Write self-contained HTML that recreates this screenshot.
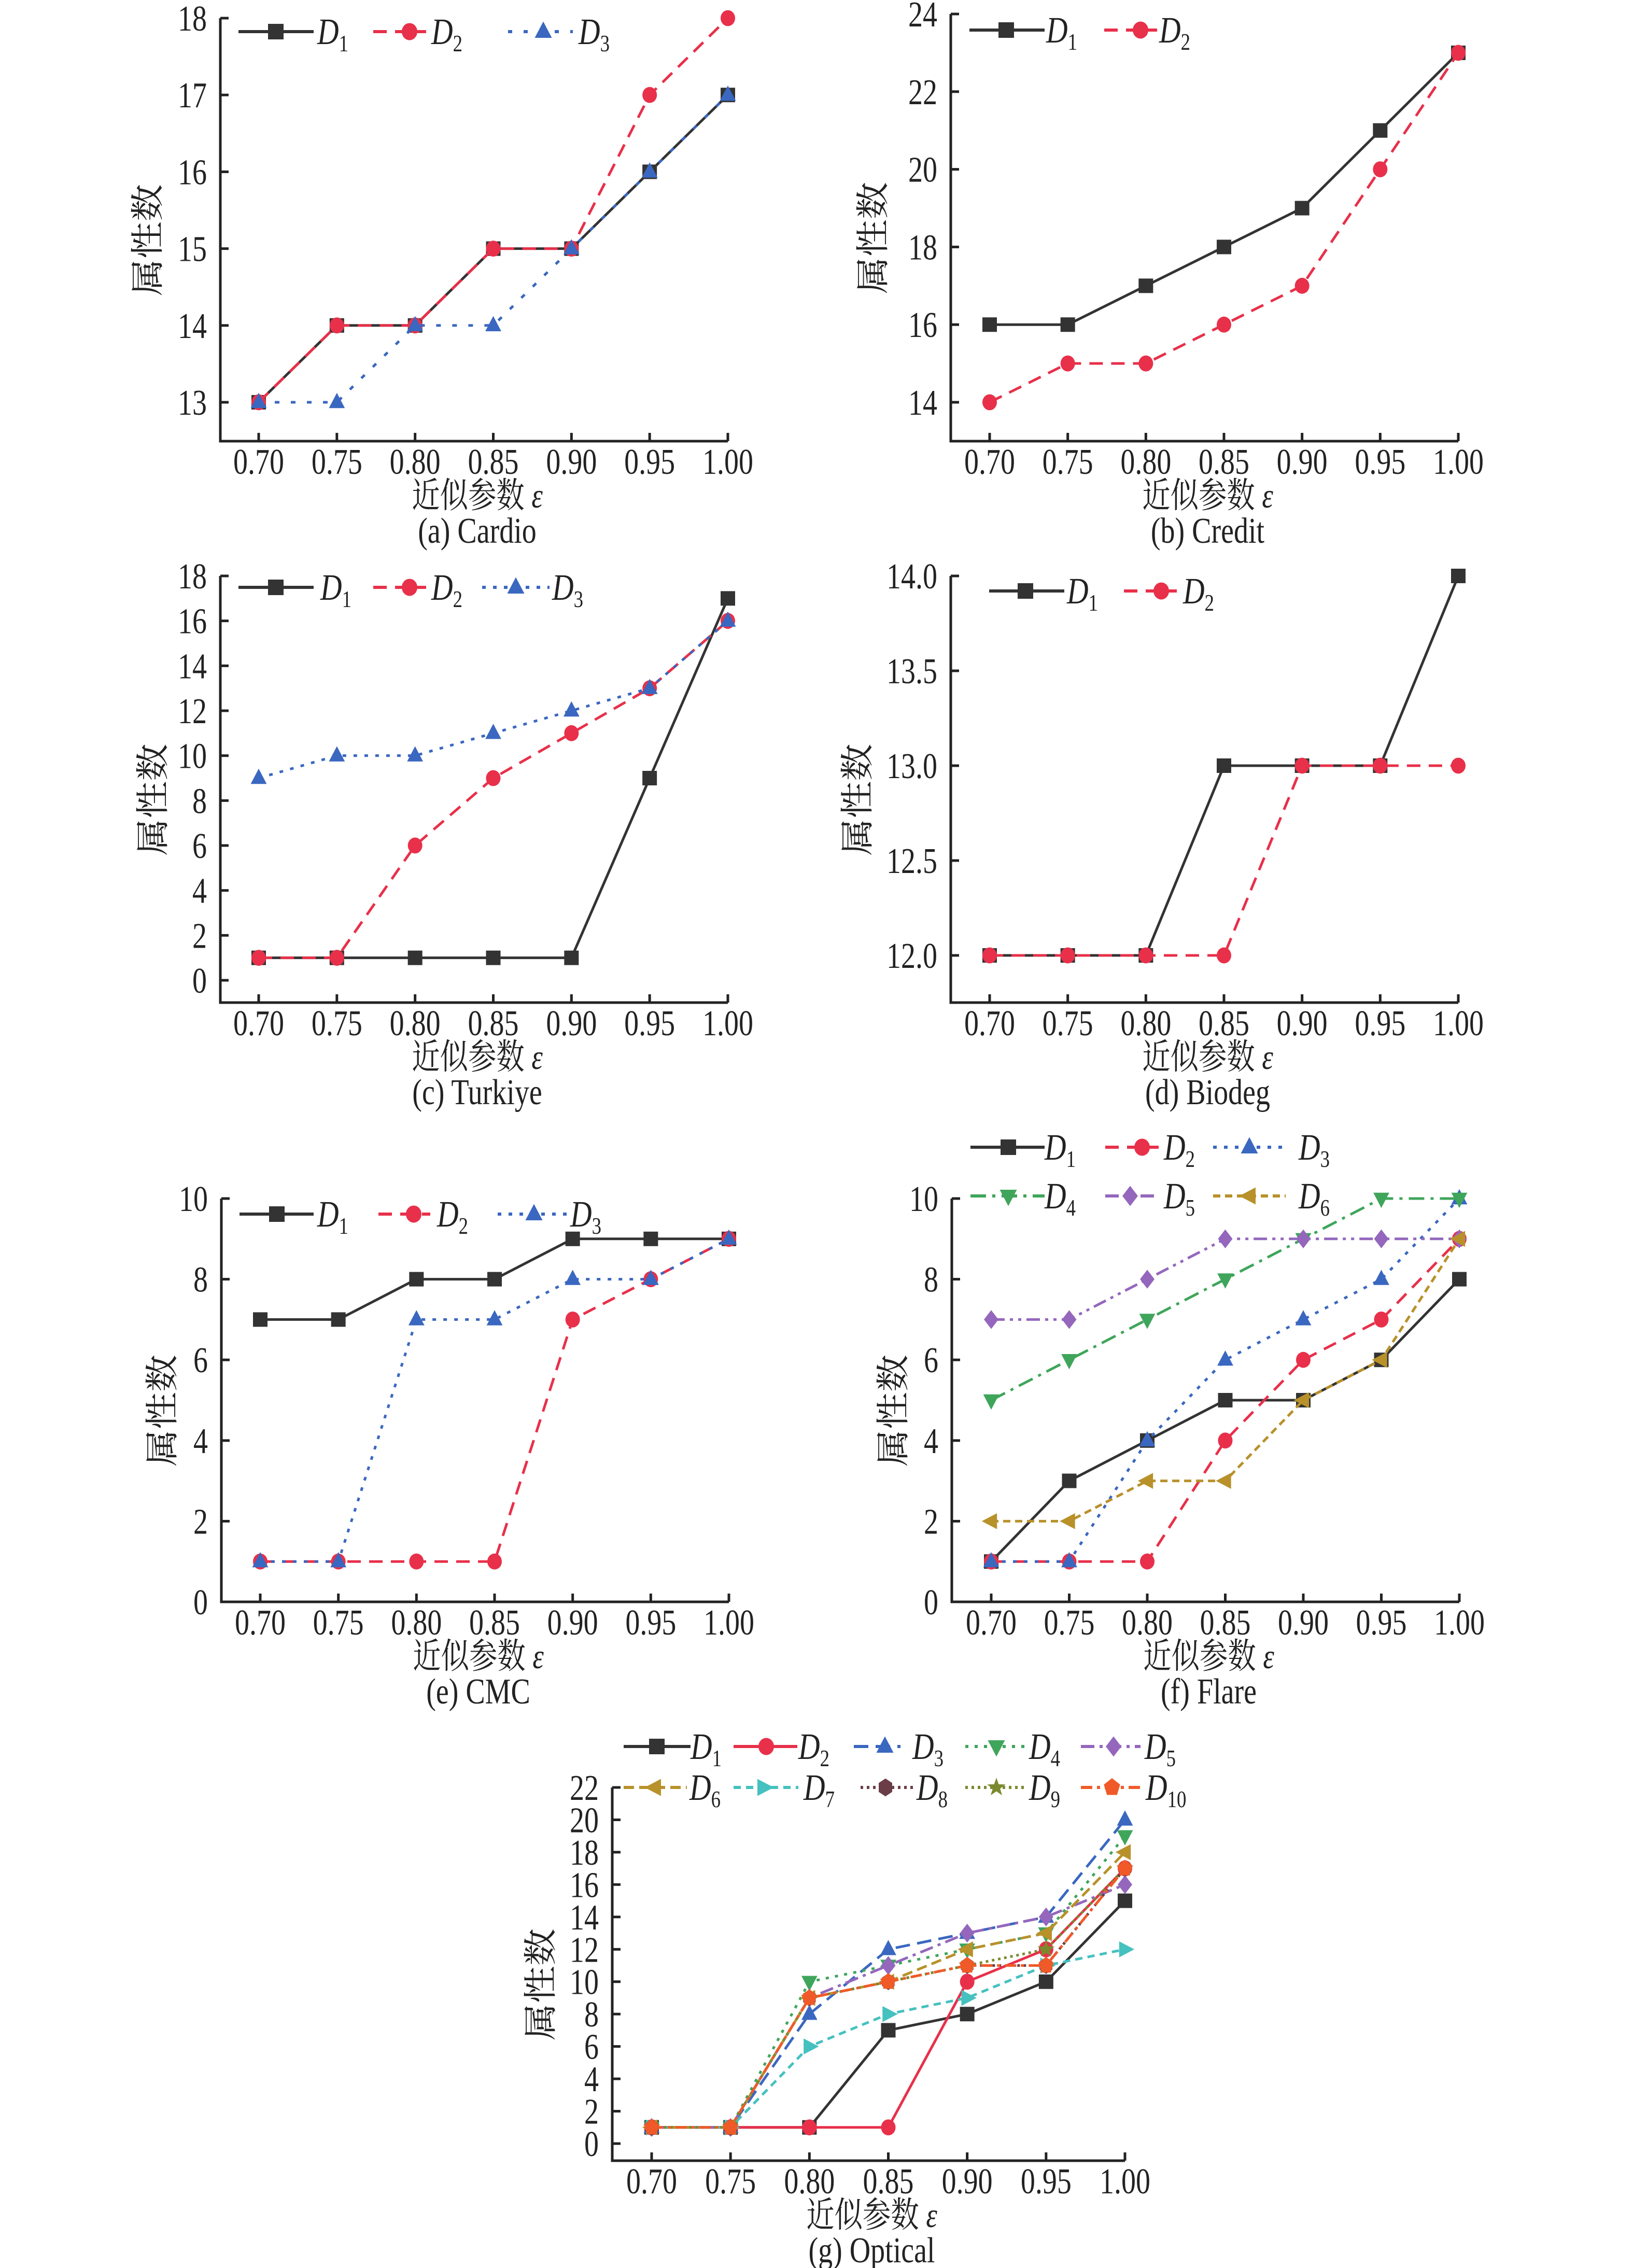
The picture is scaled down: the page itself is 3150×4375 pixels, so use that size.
<!DOCTYPE html>
<html><head><meta charset="utf-8">
<style>
html,body{margin:0;padding:0;background:#fff;}
svg{display:block;}
text{font-family:"Liberation Serif","Noto Serif CJK SC",serif;fill:#222;}
</style></head>
<body>
<svg id="fig" width="3150" height="4375" viewBox="0 0 3150 4375" xmlns="http://www.w3.org/2000/svg"></svg>
<script>
// shared x categories
const xCats = [0.70, 0.75, 0.80, 0.85, 0.90, 0.95, 1.00];
const xTickLabels = ["0.70","0.75","0.80","0.85","0.90","0.95","1.00"];

// (a) Cardio
const aD1 = [13,14,14,15,15,16,17];
const aD2 = [13,14,14,15,15,17,18];
const aD3 = [13,13,14,14,15,16,17];
const aTicks = [13,14,15,16,17,18];
// (b) Credit
const bD1 = [16,16,17,18,19,21,23];
const bD2 = [14,15,15,16,17,20,23];
const bTicks = [14,16,18,20,22,24];
// (c) Turkiye
const cD1 = [1,1,1,1,1,9,17];
const cD2 = [1,1,6,9,11,13,16];
const cD3 = [9,10,10,11,12,13,16];
const cTicks = [0,2,4,6,8,10,12,14,16,18];
// (d) Biodeg
const dD1 = [12,12,12,13,13,13,14];
const dD2 = [12,12,12,12,13,13,13];
const dTicks = [12.0,12.5,13.0,13.5,14.0];
const dTickLabels = ["12.0","12.5","13.0","13.5","14.0"];
// (e) CMC
const eD1 = [7,7,8,8,9,9,9];
const eD2 = [1,1,1,1,7,8,9];
const eD3 = [1,1,7,7,8,8,9];
const eTicks = [0,2,4,6,8,10];
// (f) Flare
const fD1 = [1,3,4,5,5,6,8];
const fD2 = [1,1,1,4,6,7,9];
const fD3 = [1,1,4,6,7,8,10];
const fD4 = [5,6,7,8,9,10,10];
const fD5 = [7,7,8,9,9,9,9];
const fD6 = [2,2,3,3,5,6,9];
const fTicks = [0,2,4,6,8,10];
// (g) Optical
const gD1 = [1,1,1,7,8,10,15];
const gD2 = [1,1,1,1,10,12,17];
const gD3 = [1,1,8,12,13,14,20];
const gD4 = [1,1,10,11,12,13,19];
const gD5 = [1,1,9,11,13,14,16];
const gD6 = [1,1,9,10,12,13,18];
const gD7 = [1,1,6,8,9,11,12];
const gD8 = [1,1,9,10,11,11,17];
const gD9 = [1,1,9,10,11,12,17];
const gD10 = [1,1,9,10,11,11,17];
const gTicks = [0,2,4,6,8,10,12,14,16,18,20,22];

const NS = "http://www.w3.org/2000/svg";
const svg = document.getElementById('fig');
const SX = 0.8;
function mk(tag, attrs, parent){
  const e = document.createElementNS(NS, tag);
  for (const k in attrs) e.setAttribute(k, attrs[k]);
  (parent||svg).appendChild(e);
  return e;
}
function ctext(parent, x, y, size, anchor){
  return mk('text',{x:0,y:0,'font-size':size,'text-anchor':anchor||'start',transform:`translate(${x},${y}) scale(${SX},1)`},parent);
}
const STY = {
  D1:{c:'#333333',d:'',m:'square'},
  D2:{c:'#e8304a',d:'26 16',m:'circle'},
  D3:{c:'#3a67c0',d:'7 14',m:'tri'},
  D4:{c:'#3fa55b',d:'30 12 6 12',m:'tridown'},
  D5:{c:'#9467bd',d:'26 10 6 10 6 10',m:'diamond'},
  D6:{c:'#b8912a',d:'14 9',m:'trileft'},
};
const GSTY = {
  D1:{c:'#333333',d:'',m:'square'},
  D2:{c:'#e8304a',d:'',m:'circle'},
  D3:{c:'#3a67c0',d:'28 14',m:'tri'},
  D4:{c:'#3fa55b',d:'6 12',m:'tridown'},
  D5:{c:'#9467bd',d:'26 10 6 10',m:'diamond'},
  D6:{c:'#b8912a',d:'20 10',m:'trileft'},
  D7:{c:'#45c1bf',d:'14 10',m:'triright'},
  D8:{c:'#6b3d46',d:'5 7',m:'hex'},
  D9:{c:'#7b8a2e',d:'5 7',m:'star'},
  D10:{c:'#f05a28',d:'22 9 6 9',m:'pent'},
};
function marker(g, type, x, y, color, s){
  s = s||14;
  let e;
  if (type==='square') e = mk('rect',{x:x-s,y:y-s,width:2*s,height:2*s,fill:color},g);
  else if (type==='circle') e = mk('ellipse',{cx:x,cy:y,rx:s,ry:s*1.1,fill:color},g);
  else {
    let pts=[];
    if (type==='tri') pts=[[0,-1.3],[1.1,0.8],[-1.1,0.8]];
    else if (type==='tridown') pts=[[0,1.3],[1.1,-0.8],[-1.1,-0.8]];
    else if (type==='trileft') pts=[[-1.3,0],[0.8,-1.1],[0.8,1.1]];
    else if (type==='triright') pts=[[1.3,0],[-0.8,-1.1],[-0.8,1.1]];
    else if (type==='diamond') pts=[[0,-1.3],[1,0],[0,1.3],[-1,0]];
    else if (type==='hex') { for(let i=0;i<6;i++){const a=Math.PI/3*i+Math.PI/6;pts.push([Math.cos(a),Math.sin(a)*1.15]);} }
    else if (type==='pent') { for(let i=0;i<5;i++){const a=-Math.PI/2+2*Math.PI/5*i;pts.push([Math.cos(a)*1.1,Math.sin(a)*1.2]);} }
    else if (type==='star') { for(let i=0;i<10;i++){const a=-Math.PI/2+Math.PI/5*i;const r=i%2?0.5:1.25;pts.push([Math.cos(a)*r,Math.sin(a)*r]);} }
    e = mk('polygon',{points:pts.map(p=>(x+p[0]*s)+','+(y+p[1]*s)).join(' '),fill:color},g);
  }
  return e;
}
function legendText(g, x, y, n){
  const t = ctext(g, x, y+24, 72);
  const a = mk('tspan',{'font-style':'italic'},t); a.textContent='D';
  const b = mk('tspan',{'font-size':46,dy:14}); t.appendChild(b); b.textContent=String(n);
  return t;
}

function panel(cfg){
  const g = mk('g',{});
  
  
  const L=cfg.L, B=cfg.B, x0=cfg.x0, x1=cfg.x1;
  const ts=cfg.ticks, yMin=ts[0], yMax=ts[ts.length-1];
  const X = v => x0 + (v - xCats[0])/(xCats[xCats.length-1]-xCats[0])*(x1-x0);
  const Y = v => cfg.yBot + (v - yMin)/(yMax-yMin)*(cfg.yTop-cfg.yBot);
  const ax = mk('path',{d:`M${L},${cfg.yTop} V${B} H${x1}`,fill:'none',stroke:'#222','stroke-width':5},g);
  
  
  ts.forEach((v,i)=>{
    const y=Y(v);
    mk('line',{x1:L,x2:L+16,y1:y,y2:y,stroke:'#222','stroke-width':5},g);
    const t=ctext(g, L-26, y+24, 70, 'end');
    
    
    t.textContent = cfg.tickLabels ? cfg.tickLabels[i] : String(v);
  });
  xCats.forEach((v,i)=>{
    const x=X(v);
    mk('line',{x1:x,x2:x,y1:B,y2:B-16,stroke:'#222','stroke-width':5},g);
    const t=ctext(g, x, B+63, 70, 'middle');
    
    
    t.textContent = xTickLabels[i];
  });
  const cx = (L+x1)/2+6;
  const xt = ctext(g, cx, B+128, 68, 'middle');
  
  
  xt.textContent='近似参数 ';
  const eps = mk('tspan',{'font-style':'italic'},xt); eps.textContent='ε';
  const cap = ctext(g, cx, B+196, 70, 'middle');
  
  
  cap.textContent = cfg.caption;
  const ymid = (cfg.yTop+B)/2 + 20;
  const yt = mk('text',{x:0,y:0,'font-size':72,'text-anchor':'middle',transform:`translate(${L-cfg.ytOff},${ymid}) rotate(-90) scale(1,0.9)`},g);
  
  
  yt.textContent='属性数';
  cfg.series.forEach(s=>{
    const st = s.st;
    const sg = mk('g',{},g);
    
    
    const d = s.data.map((v,i)=>(i?'L':'M')+X(xCats[i])+','+Y(v)).join(' ');
    const p = mk('path',{d:d,fill:'none',stroke:st.c,'stroke-width':5,'stroke-dasharray':st.d||'none','stroke-linejoin':'round'},sg);
    
    
    s.data.forEach((v,i)=>{
      const m = marker(sg, st.m, X(xCats[i]), Y(v), st.c, 14);
      
      
    });
  });
  cfg.legend.forEach(l=>{
    const st = l.st;
    const lg = mk('g',{},g);
    
    
    mk('line',{x1:l.a,x2:l.b,y1:l.y,y2:l.y,stroke:st.c,'stroke-width':6,'stroke-dasharray':st.d||'none'},lg);
    marker(lg, st.m, l.m, l.y, st.c, 15);
    legendText(lg, l.t, l.y, l.n);
  });
}

panel({name:'panel-a-cardio',caption:'(a) Cardio',L:425,B:851,x0:499,x1:1404,yTop:35,yBot:776,ticks:aTicks,ytOff:118,
  series:[{key:'D1',data:aD1,st:STY.D1},{key:'D2',data:aD2,st:STY.D2},{key:'D3',data:aD3,st:{c:'#3a67c0',d:'9 22',m:'tri'}}],
  legend:[{n:1,st:STY.D1,a:460,b:605,m:532,t:612,y:61},{n:2,st:STY.D2,a:720,b:822,m:790,t:832,y:61},{n:3,st:{c:'#3a67c0',d:'8 22',m:'tri'},a:980,b:1105,m:1048,t:1116,y:61}]});
panel({name:'panel-b-credit',caption:'(b) Credit',L:1834,B:851,x0:1909,x1:2813,yTop:27,yBot:776,ticks:bTicks,ytOff:128,
  series:[{key:'D1',data:bD1,st:STY.D1},{key:'D2',data:bD2,st:STY.D2}],
  legend:[{n:1,st:STY.D1,a:1870,b:2015,m:1941,t:2018,y:58},{n:2,st:STY.D2,a:2130,b:2232,m:2200,t:2236,y:58}]});
panel({name:'panel-c-turkiye',caption:'(c) Turkiye',L:425,B:1934,x0:499,x1:1404,yTop:1111,yBot:1891,ticks:cTicks,ytOff:108,
  series:[{key:'D1',data:cD1,st:STY.D1},{key:'D2',data:cD2,st:STY.D2},{key:'D3',data:cD3,st:STY.D3}],
  legend:[{n:1,st:STY.D1,a:460,b:605,m:532,t:618,y:1133},{n:2,st:STY.D2,a:720,b:822,m:790,t:832,y:1133},{n:3,st:STY.D3,a:930,b:1060,m:995,t:1065,y:1133}]});
panel({name:'panel-d-biodeg',caption:'(d) Biodeg',L:1834,B:1934,x0:1909,x1:2813,yTop:1111,yBot:1843,ticks:dTicks,tickLabels:dTickLabels,ytOff:158,
  series:[{key:'D1',data:dD1,st:STY.D1},{key:'D2',data:dD2,st:STY.D2}],
  legend:[{n:1,st:STY.D1,a:1908,b:2053,m:1978,t:2058,y:1140},{n:2,st:STY.D2,a:2168,b:2270,m:2240,t:2282,y:1140}]});
panel({name:'panel-e-cmc',caption:'(e) CMC',L:427,B:3090,x0:502,x1:1406,yTop:2312,yBot:3090,ticks:eTicks,ytOff:92,
  series:[{key:'D1',data:eD1,st:STY.D1},{key:'D2',data:eD2,st:STY.D2},{key:'D3',data:eD3,st:STY.D3}],
  legend:[{n:1,st:STY.D1,a:462,b:605,m:534,t:612,y:2342},{n:2,st:STY.D2,a:730,b:830,m:798,t:843,y:2342},{n:3,st:STY.D3,a:960,b:1095,m:1030,t:1100,y:2342}]});
panel({name:'panel-f-flare',caption:'(f) Flare',L:1836,B:3090,x0:1912,x1:2815,yTop:2312,yBot:3090,ticks:fTicks,ytOff:91,
  series:[{key:'D1',data:fD1,st:STY.D1},{key:'D2',data:fD2,st:STY.D2},{key:'D3',data:fD3,st:STY.D3},{key:'D4',data:fD4,st:STY.D4},{key:'D5',data:fD5,st:STY.D5},{key:'D6',data:fD6,st:STY.D6}],
  legend:[{n:1,st:STY.D1,a:1872,b:2015,m:1945,t:2015,y:2213},{n:2,st:STY.D2,a:2132,b:2235,m:2203,t:2245,y:2213},{n:3,st:STY.D3,a:2340,b:2480,m:2410,t:2505,y:2213},
          {n:4,st:STY.D4,a:1872,b:2015,m:1945,t:2015,y:2307},{n:5,st:STY.D5,a:2132,b:2235,m:2180,t:2245,y:2307},{n:6,st:STY.D6,a:2340,b:2480,m:2410,t:2505,y:2307}]});
panel({name:'panel-g-optical',caption:'(g) Optical',L:1181,B:4168,x0:1257,x1:2170,yTop:3448,yBot:4135,ticks:gTicks,ytOff:116,
  series:['D1','D2','D3','D4','D5','D6','D7','D8','D9','D10'].map((k,i)=>({key:k,data:[gD1,gD2,gD3,gD4,gD5,gD6,gD7,gD8,gD9,gD10][i],st:GSTY[k]})),
  legend:[{n:1,st:GSTY.D1,a:1203,b:1332,m:1267,t:1332,y:3369},{n:2,st:GSTY.D2,a:1415,b:1538,m:1478,t:1540,y:3369},{n:3,st:GSTY.D3,a:1647,b:1737,m:1707,t:1760,y:3369},{n:4,st:GSTY.D4,a:1862,b:1980,m:1922,t:1985,y:3369},{n:5,st:GSTY.D5,a:2085,b:2200,m:2148,t:2208,y:3369},
          {n:6,st:GSTY.D6,a:1203,b:1325,m:1263,t:1330,y:3448},{n:7,st:GSTY.D7,a:1415,b:1540,m:1473,t:1550,y:3448},{n:8,st:GSTY.D8,a:1660,b:1768,m:1708,t:1768,y:3448},{n:9,st:GSTY.D9,a:1862,b:1980,m:1922,t:1985,y:3448},{n:10,st:GSTY.D10,a:2085,b:2208,m:2145,t:2210,y:3448}]});
</script>
</body></html>
